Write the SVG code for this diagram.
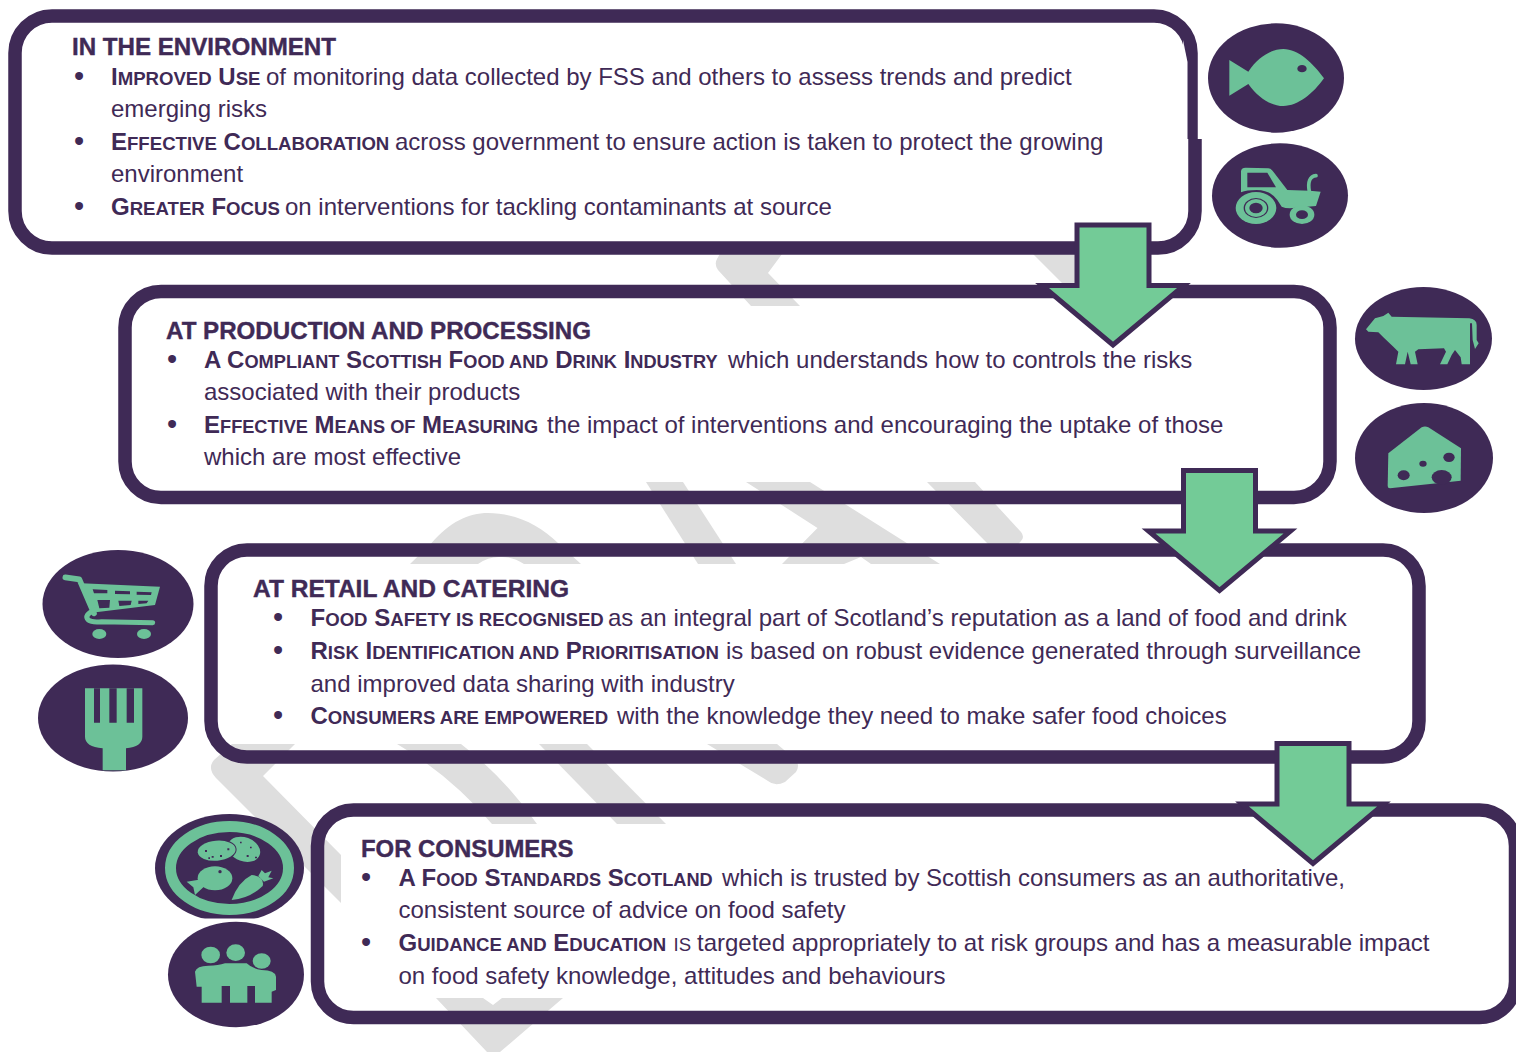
<svg xmlns="http://www.w3.org/2000/svg" width="1516" height="1052" viewBox="0 0 1516 1052">
<style>
text{font-family:"Liberation Sans",Arial,sans-serif;font-size:24px;fill:#3F2A56}
.h{font-weight:bold;stroke:#3F2A56;stroke-width:.4;font-size:24.2px}
.b{font-weight:bold}
.s{font-size:18.6px}
.t{font-size:18.2px}
.dot{font-size:29px}
.box{fill:none;stroke:#3F2A56;stroke-width:13.5}
.wm{fill:#DEDEDE}
.arrow{fill:#73CB97;stroke:#3F2A56;stroke-width:5;stroke-miterlimit:10}
.disc{fill:#3F2A56}
.g{fill:#6CC198}
.p{fill:#3F2A56}
.gl{fill:none;stroke:#6CC198;stroke-linecap:round;stroke-linejoin:round}
</style>
<rect width="1516" height="1052" fill="#fff"/>
<g id="watermark" class="wm">
<path d="M722 250H785L768 273L800 306H751L718 270Q714 264 717 259Z"/>
<path d="M1033 254H1110V306H1085Z"/>
<path d="M410 564L431.500 543C450 522 468 513 488 513C515 513 540 525 558 543L581 564H524Q512 556 499 557Q488 557 478 564Z"/>
<path d="M646 482H683L736 564H698Z"/>
<path d="M746 482H810L940 564H871L861 557L844 564H782L817.500 528Z"/>
<path d="M927 482H975L1021 532Q1025 537 1021 541L1008 556H1000L987 543Z"/>
<path d="M232 744H295L263 776L341 855V903L216 778Q207 768 214 760Z"/>
<path d="M397 744H461Q505 778 537 824H492Q450 775 397 744Z"/>
<path d="M539 744H587L666 824H617Z"/>
<path d="M707 744H777L796 760Q800 766 796 772L785 782Q775 787 768 781Z"/>
<path d="M436 998H483L493 1005L502 998H563L500 1052H487Z"/>
</g>
<g id="box-environment">
<path class="box" d="M1191 139V53A37 37 0 0 0 1154 16H52A37 37 0 0 0 15 53V211A37 37 0 0 0 52 248H1158A37 37 0 0 0 1195 211V139"/>
<path d="M1183 40L1187.500 62V139H1184Z" fill="#fff"/>
<text class="h" x="72" y="55" textLength="264" lengthAdjust="spacingAndGlyphs">IN THE ENVIRONMENT</text>
<text class="dot" x="74" y="86">•</text>
<text x="111" y="85"><tspan class="b">I<tspan class="s">MPROVED</tspan> U<tspan class="s">SE</tspan></tspan><tspan x="266">of monitoring data collected by FSS and others to assess trends and predict</tspan></text>
<text x="111" y="117">emerging risks</text>
<text class="dot" x="74" y="151">•</text>
<text x="111" y="150"><tspan class="b">E<tspan class="s">FFECTIVE</tspan> C<tspan class="s">OLLABORATION</tspan></tspan><tspan x="395">across government to ensure action is taken to protect the growing</tspan></text>
<text x="111" y="182">environment</text>
<text class="dot" x="74" y="216">•</text>
<text x="111" y="215"><tspan class="b">G<tspan class="s">REATER</tspan> F<tspan class="s">OCUS</tspan></tspan><tspan x="285">on interventions for tackling contaminants at source</tspan></text>
</g>
<g id="box-production">
<rect class="box" x="125" y="291.500" width="1205" height="206" rx="36"/>
<text class="h" x="166" y="338.500" textLength="425" lengthAdjust="spacingAndGlyphs">AT PRODUCTION AND PROCESSING</text>
<text class="dot" x="167" y="369">•</text>
<text x="204" y="368"><tspan class="b">A C<tspan class="t">OMPLIANT</tspan> S<tspan class="t">COTTISH</tspan> F<tspan class="t">OOD AND</tspan> D<tspan class="t">RINK</tspan> I<tspan class="t">NDUSTRY</tspan></tspan><tspan x="728">which understands how to controls the risks</tspan></text>
<text x="204" y="400">associated with their products</text>
<text class="dot" x="167" y="434">•</text>
<text x="204" y="433"><tspan class="b">E<tspan class="t">FFECTIVE</tspan> M<tspan class="t">EANS OF</tspan> M<tspan class="t">EASURING</tspan></tspan><tspan x="547">the impact of interventions and encouraging the uptake of those</tspan></text>
<text x="204" y="465">which are most effective</text>
</g>
<g id="box-retail">
<rect class="box" x="211" y="550" width="1208" height="207" rx="36"/>
<text class="h" x="253" y="596.500" textLength="316" lengthAdjust="spacingAndGlyphs">AT RETAIL AND CATERING</text>
<text class="dot" x="273" y="627">•</text>
<text x="310.500" y="626"><tspan class="b">F<tspan class="s">OOD</tspan> S<tspan class="s">AFETY IS RECOGNISED</tspan></tspan><tspan x="608">as an integral part of Scotland’s reputation as a land of food and drink</tspan></text>
<text class="dot" x="273" y="660">•</text>
<text x="310.500" y="659"><tspan class="b">R<tspan class="s">ISK</tspan> I<tspan class="s">DENTIFICATION AND</tspan> P<tspan class="s">RIORITISATION</tspan></tspan><tspan x="726">is based on robust evidence generated through surveillance</tspan></text>
<text x="310.500" y="692">and improved data sharing with industry</text>
<text class="dot" x="273" y="725">•</text>
<text x="310.500" y="724"><tspan class="b">C<tspan class="s">ONSUMERS ARE EMPOWERED</tspan></tspan><tspan x="617">with the knowledge they need to make safer food choices</tspan></text>
</g>
<g id="box-consumers">
<rect class="box" x="317.500" y="810" width="1198" height="207.500" rx="36"/>
<text class="h" x="361" y="857" textLength="212.500" lengthAdjust="spacingAndGlyphs">FOR CONSUMERS</text>
<text class="dot" x="361" y="887">•</text>
<text x="398.500" y="886"><tspan class="b">A F<tspan class="t">OOD</tspan> S<tspan class="t">TANDARDS</tspan> S<tspan class="t">COTLAND</tspan></tspan><tspan x="722">which is trusted by Scottish consumers as an authoritative,</tspan></text>
<text x="398.500" y="918">consistent source of advice on food safety</text>
<text class="dot" x="361" y="952">•</text>
<text x="398.500" y="951"><tspan class="b">G<tspan class="s">UIDANCE AND</tspan> E<tspan class="s">DUCATION</tspan></tspan><tspan x="673.500" class="s">IS</tspan><tspan x="697">targeted appropriately to at risk groups and has a measurable impact</tspan></text>
<text x="398.500" y="984">on food safety knowledge, attitudes and behaviours</text>
</g>
<g id="connectors">
<path id="arrow-1" class="arrow" d="M1077 225H1149V285.500H1184L1113 345L1042 285.500H1077Z"/>
<path id="arrow-2" class="arrow" transform="translate(106.500 245.500)" d="M1077 225H1149V285.500H1184L1113 345L1042 285.500H1077Z"/>
<path id="arrow-3" class="arrow" transform="translate(200 518.500)" d="M1077 225H1149V285.500H1184L1113 345L1042 285.500H1077Z"/>
</g>
<g id="icon-fish">
<ellipse class="disc" cx="1276" cy="78" rx="68" ry="54.700"/>
<g transform="translate(1190 0) scale(.33333)">
<path class="g" d="M118 180L175 215C205 170 245 147 280 147C325 147 370 190 402 235C370 280 325 318 280 318C245 318 205 295 175 252L118 287Z"/>
<ellipse class="p" cx="336" cy="206" rx="14" ry="11"/>
</g>
</g>
<g id="icon-tractor">
<ellipse class="disc" cx="1280" cy="195.500" rx="68" ry="52.200"/>
<g transform="translate(1190 0) scale(.33333)">
<path class="g" d="M153 515Q153 503 167 503L235 505Q245 506 250 515L292 570L360 572L392 575L378 618L300 625Q285 625 275 620L262 600Q240 570 200 570Q170 570 153 577Z"/>
<path class="p" d="M172 518V562H258L232 518Z"/>
<path class="gl" stroke-width="11" d="M358 575Q350 530 378 527"/>
<ellipse class="g" cx="198" cy="624" rx="61" ry="48"/>
<ellipse class="p" cx="198" cy="624" rx="37" ry="30"/>
<ellipse class="g" cx="198" cy="624" rx="33" ry="27"/>
<ellipse class="p" cx="198" cy="624" rx="20" ry="16"/>
<ellipse class="g" cx="336" cy="644" rx="37" ry="28"/>
<ellipse class="p" cx="336" cy="644" rx="18" ry="13"/>
</g>
</g>
<g id="icon-cow">
<ellipse class="disc" cx="1423.500" cy="338.500" rx="68.500" ry="51.500"/>
<g transform="translate(1340 280) scale(.33333)">
<path class="g" d="M78 148L105 115L130 108L145 98L155 110L388 115Q410 118 410 135L410 180L416 190L405 207L398 180L396 130L390 130L390 253L365 253L362 232L345 210L335 225L322 253L300 253L318 215L312 205L235 208L225 215L233 253L212 253L203 215L195 253L168 253L175 215L160 200L130 172L115 157L85 155Z"/>
</g>
</g>
<g id="icon-cheese">
<ellipse class="disc" cx="1424" cy="458" rx="69" ry="55"/>
<g transform="translate(1340 280) scale(.33333)">
<path class="g" d="M145 520L245 442Q255 437 265 442L363 505L362 602L150 625Q143 625 143 618Z"/>
<ellipse class="p" cx="191" cy="586" rx="18" ry="15"/>
<ellipse class="p" cx="249" cy="551" rx="11" ry="9"/>
<ellipse class="p" cx="327" cy="532" rx="17" ry="14"/>
<ellipse class="p" cx="305" cy="592" rx="30" ry="22"/>
</g>
</g>
<g id="icon-cart">
<ellipse class="disc" cx="118" cy="604" rx="75.500" ry="54"/>
<g transform="translate(20 540) scale(.33333)">
<path class="g" d="M185 130L420 140L405 195L215 218Z"/>
<path class="gl" stroke-width="17" stroke-linecap="butt" d="M136 112L178 118L222 220"/>
<path class="gl" stroke-width="15" d="M225 210Q190 225 205 240Q215 248 245 245L398 248"/>
<path class="p" d="M218 148L262 150V160H222ZM285 152L330 154V163L285 162ZM350 155L395 157L393 165L350 164ZM232 180H270L268 203L238 205ZM295 182H335L332 195L298 198ZM355 182H385L380 190L355 192Z"/>
<ellipse class="g" cx="238" cy="282" rx="21" ry="15"/>
<ellipse class="g" cx="372" cy="282" rx="21" ry="15"/>
</g>
</g>
<g id="icon-fork">
<ellipse class="disc" cx="113" cy="718" rx="75" ry="53.500"/>
<g transform="translate(20 540) scale(.33333)">
<path class="g" d="M195 445H367V590Q367 620 318 625V691H248V625Q195 620 195 590Z"/>
<path class="p" d="M222 445H240V548H222ZM268 445H290V548H268ZM320 445H342V548H320Z"/>
</g>
</g>
<g id="icon-food">
<clipPath id="foodclip"><rect x="150" y="810" width="160" height="108.500"/></clipPath>
<g clip-path="url(#foodclip)">
<ellipse class="disc" cx="229.500" cy="868" rx="74.500" ry="54"/>
<ellipse cx="229.500" cy="868" rx="59" ry="41.500" fill="none" stroke="#6CC198" stroke-width="11"/>
</g>
<g transform="translate(140 800) scale(.33333)">
<ellipse class="g" cx="312" cy="148" rx="50" ry="36" transform="rotate(20 312 148)"/>
<ellipse class="p" cx="230" cy="152" rx="60" ry="34" transform="rotate(-5 230 152)"/>
<ellipse class="g" cx="230" cy="152" rx="57" ry="30" transform="rotate(-5 230 152)"/>
<path class="p" d="M195 150h6v6h-6zM215 168h6v5h-6zM240 165h6v6h-6zM262 145h6v6h-6zM205 172h5v5h-5zM300 125h5v5h-5zM320 165h6v6h-6zM345 170h6v5h-6zM330 140h5v5h-5z"/>
<ellipse class="g" cx="225" cy="235" rx="52" ry="36"/>
<path class="g" d="M140 245L185 238L190 262L165 285L160 262Z"/>
<circle class="p" cx="240" cy="215" r="5"/>
<path class="g" d="M275 300Q295 245 335 225Q375 230 368 258Q330 295 275 300Z"/>
<path class="g" d="M355 228L365 210L375 220L395 212L385 232L400 235L372 245Z"/>
</g>
</g>
<g id="icon-people">
<ellipse class="disc" cx="236" cy="974.500" rx="68" ry="52.700"/>
<g transform="translate(140 800) scale(.33333)">
<ellipse class="g" cx="212" cy="465" rx="28" ry="25"/>
<ellipse class="g" cx="287" cy="458" rx="28" ry="25"/>
<ellipse class="g" cx="365" cy="483" rx="27" ry="23"/>
<path class="g" d="M165 515Q170 497 205 497Q235 497 255 490H320Q335 505 365 510Q405 510 408 530V570L395 575V608H345V558H322V608H270V558H245V608H185V560H170Z"/>
</g>
</g>
</svg>
